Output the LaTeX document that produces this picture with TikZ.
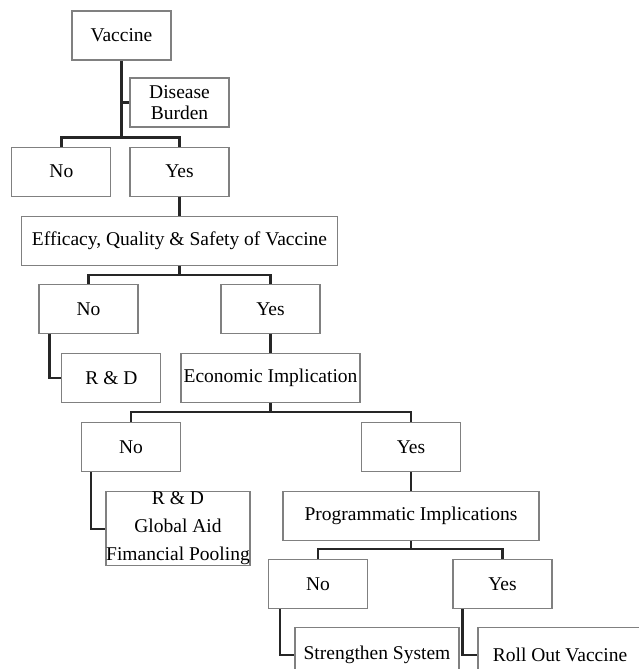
\documentclass[tikz,border=0pt]{standalone}
\usepackage{fontspec}
\setmainfont{Liberation Serif}
\usetikzlibrary{positioning}

\begin{document}
\begin{tikzpicture}[
  x=1pt, y=-1pt,
  box/.style={rectangle, draw=black!50, line width=1.1pt, fill=white,
              align=center, inner sep=0pt, minimum height=49pt, minimum width=99pt,
              font=\fontsize{19.5}{21}\selectfont},
  link/.style={draw=black!85, line width=2.2pt}
]
\useasboundingbox (0,0) rectangle (639,669);
\clip (0,0) rectangle (639,669);

\node[box] (vaccine) at (121.5,35.5) {Vaccine};
\node[box, below=86pt of vaccine, xshift=58pt] (yesA) {Yes};
\node[box, left=18pt of yesA]  (noA)    {No};
\node[box, above=19pt of yesA] (burden) {Disease\\Burden};

\node[box, below=19pt of yesA, minimum width=316pt] (efficacy) {Efficacy, Quality \& Safety of Vaccine};
\node[box, below=18pt of efficacy, xshift=-91pt] (noB)  {No};
\node[box, below=18pt of efficacy, xshift=91pt]  (yesB) {Yes};
\node[box, below=19pt of yesB, minimum width=179pt] (econ) {Economic Implication};
\node[box, left=19pt of econ] (rdA) {R \& D};

\node[box, below=19pt of econ, xshift=-139.5pt] (noC)  {No};
\node[box, below=19pt of econ, xshift=140.5pt]  (yesC) {Yes};
\node[box, below=19pt of noC, xshift=47pt, minimum width=144pt, minimum height=74pt] (rdB)
  {R \& D\\[7pt]Global Aid\\[7pt]Fimancial Pooling};
\node[box, below=19pt of yesC, minimum width=256pt] (prog) {Programmatic Implications};

\node[box, below=18pt of prog, xshift=-93pt]  (noD)  {No};
\node[box, below=18pt of prog, xshift=91.5pt] (yesD) {Yes};
\node[box, below=18pt of noD, xshift=59pt, minimum width=164pt, minimum height=54pt]  (strengthen) {Strengthen System};
\node[box, below=18pt of yesD, xshift=57.5pt, minimum width=164pt, minimum height=54pt] (rollout)    {Roll Out Vaccine};

% level 1
\draw[link] (noA.north) -- ++(0,9pt) coordinate (barA) -| (yesA.north);
\draw[link] (vaccine.south) -- (vaccine.south |- barA);
\draw[link] (burden.west) -- (burden.west -| vaccine.south);
\draw[link] (yesA) -- (efficacy);

% level 2
\draw[link] (noB.north) -- ++(0,9pt) coordinate (barB) -| (yesB.north);
\draw[link] (efficacy.south) -- (efficacy.south |- barB);
\draw[link] ([xshift=11pt]noB.south west) |- (rdA.west);
\draw[link] (yesB) -- (econ);

% level 3
\draw[link] (noC.north) -- ++(0,10pt) coordinate (barC) -| (yesC.north);
\draw[link] (econ.south) -- (econ.south |- barC);
\draw[link] ([xshift=10pt]noC.south west) |- (rdB.west);
\draw[link] (yesC) -- (prog);

% level 4
\draw[link] (noD.north) -- ++(0,10pt) coordinate (barD) -| (yesD.north);
\draw[link] (prog.south) -- (prog.south |- barD);
\draw[link] ([xshift=12pt]noD.south west) |- (strengthen.west);
\draw[link] ([xshift=10pt]yesD.south west) |- (rollout.west);

\end{tikzpicture}
\end{document}
